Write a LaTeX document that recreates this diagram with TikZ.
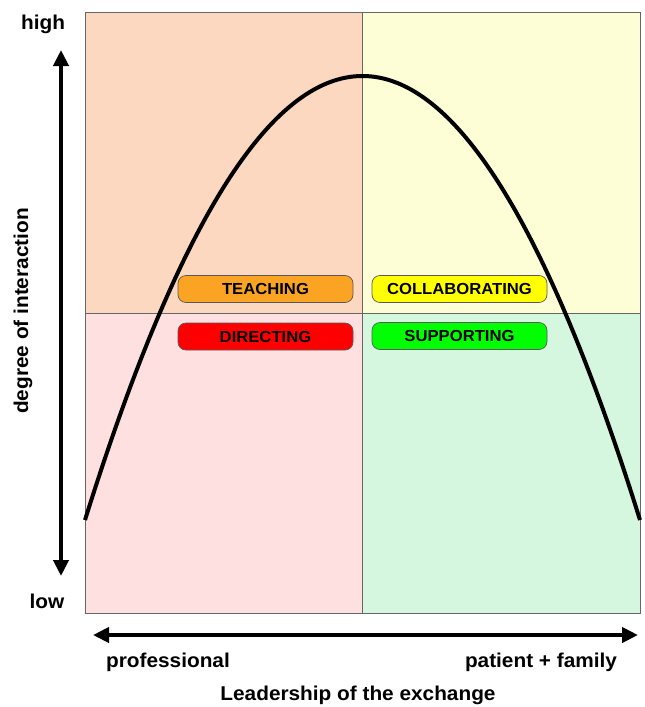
\documentclass[tikz,border=0pt]{standalone}
\usepackage{fontspec}
\setmainfont{Liberation Sans}[FakeStretch=1.04]
\usetikzlibrary{arrows.meta}
\definecolor{qTL}{HTML}{FBD8BF}
\definecolor{qTR}{HTML}{FEFED6}
\definecolor{qBL}{HTML}{FFE0E0}
\definecolor{qBR}{HTML}{D5F7E0}
\definecolor{cOrange}{HTML}{FBA322}
\definecolor{cYellow}{HTML}{FFFF00}
\definecolor{cRed}{HTML}{FF0000}
\definecolor{cGreen}{HTML}{00FF00}
\tikzset{
  quad/.style={draw=gray!80!black, line width=0.8pt},
  tag/.style={draw=black!65, line width=0.7pt, rounded corners=8pt, minimum width=175pt, minimum height=27pt, inner sep=0pt, font=\fontsize{16}{18}\selectfont\bfseries},
  axislabel/.style={font=\fontsize{20}{23}\selectfont\bfseries, inner sep=0pt},
  bigarrow/.style={line width=4pt, {Triangle[width=15pt,length=16pt]}-{Triangle[width=15pt,length=16pt]}},
}
\begin{document}
\begin{tikzpicture}[x=1pt,y=-1pt]
\useasboundingbox (0,0) rectangle (645,707);
\fill[white] (0,0) rectangle (645,707);
% quadrants
\fill[qTL] (85,12) rectangle (362,313);
\fill[qTR] (362,12) rectangle (640,313);
\fill[qBL] (85,313) rectangle (362,613);
\fill[qBR] (362,313) rectangle (640,613);
\draw[quad] (85,12) rectangle (640,613);
\draw[quad] (362,12) -- (362,613);
\draw[quad] (85,313) -- (640,313);
% curve
\coordinate (cL) at (85,520);
\coordinate (cR) at (640,520);
\draw[line width=4pt] (cL) .. controls (270,-72) and (455,-72) .. (cR);
% tags
\node[tag, fill=cOrange] (teach) at (265.5,289) {TEACHING};
\node[tag, fill=cYellow] (collab) at (459.5,289) {COLLABORATING};
\node[tag, fill=cRed] (direct) at (265.5,336.5) {DIRECTING};
\node[tag, fill=cGreen] (support) at (459.5,336) {SUPPORTING};
% axes
\coordinate (vtop) at (61,50);
\coordinate (vbot) at (61,576);
\draw[bigarrow] (vbot) -- (vtop);
\coordinate (hl) at (93,635);
\coordinate (hr) at (638,635);
\draw[bigarrow] (hl) -- (hr);
\node[axislabel] (high) at (43,24) {high};
\node[axislabel] (low) at (47,601) {low};
\node[axislabel, rotate=90] (ylab) at (23,311) {degree of interaction};
\node[axislabel] (prof) at (168,662) {professional};
\node[axislabel] (pat) at (541,662) {patient + family};
\node[axislabel] (xlab) at (358,695) {Leadership of the exchange};
\end{tikzpicture}
\end{document}
